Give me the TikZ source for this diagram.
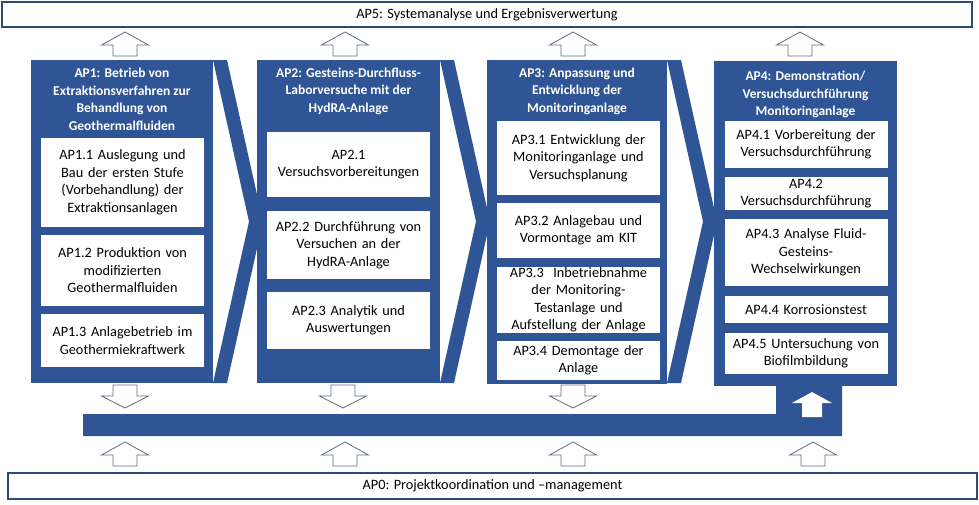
\documentclass[tikz,border=0pt]{standalone}
\usepackage{fontspec}
\setmainfont{Carlito}
\definecolor{apblue}{HTML}{2F5597}
\definecolor{apframe}{HTML}{2A4B78}
\definecolor{arrline}{HTML}{5E6A82}
\newcommand{\apfont}{\fontsize{14.3}{17.5}\selectfont}
\newcommand{\aptitlefont}{\fontsize{13.5}{17.5}\selectfont\bfseries}
\tikzset{
    apbar/.style={draw=apframe, line width=2pt, fill=white, inner sep=0pt, font=\apfont},
    aptitle/.style={text=white, align=center, inner sep=0pt, font=\aptitlefont},
    apsub/.style={fill=white, align=center, inner xsep=2pt, inner ysep=0pt,
        minimum width=163pt, text width=159pt, font=\apfont},
    arrline/.style={draw=arrline, line width=0.8pt, fill=white},
    uparr/.pic={\path[arrline] (0,0) -- (23.5,13) -- (12,13) -- (12,24)
        -- (-12,24) -- (-12,13) -- (-23.5,13) -- cycle;},
    downarr/.pic={\path[arrline] (0,0) -- (23.5,-12) -- (12,-12) -- (12,-23)
        -- (-12,-23) -- (-12,-12) -- (-23.5,-12) -- cycle;}
}
\begin{document}
\begin{tikzpicture}[x=1pt, y=-1pt]
        % work packages AP0 - AP5, chevron columns

\useasboundingbox (0,0) rectangle (979,504);

\node[apbar, minimum width=970pt, minimum height=25pt] (ap5) at (487,14.5)
    {AP5: Systemanalyse und Ergebnisverwertung};
\node[apbar, minimum width=969pt, minimum height=26pt] (ap0) at (492.5,486)
    {AP0: Projektkoordination und --management};

\foreach \r in {213,440,667}
    \fill[apblue] (\r,60) -- (\r+14,60) -- (\r+50,221.5) -- (\r+14,383)
        -- (\r,383) -- (\r+36,221.5) -- cycle;

\fill[apblue] (31,60) rectangle (213,383);
\fill[apblue] (257,60) rectangle (440,383);
\fill[apblue] (487,60) rectangle (667,384);
\fill[apblue] (714,61) rectangle (897,386);
\fill[apblue] (83,414) -- (776,414) -- (776,384) -- (842,384)
    -- (842,436) -- (83,436) -- cycle;
\fill[white] (812,392) -- (832,403) -- (822,403) -- (822,417)
    -- (802,417) -- (802,403) -- (792,403) -- cycle;

\foreach \x in {125,345,573,800} \pic at (\x,32) {uparr};
\foreach \x in {125,343,573} \pic at (\x,408) {downarr};
\foreach \x in {125,345,573,813} \pic at (\x,442) {uparr};

\node[aptitle] (ap1) at (122,99.5)
    {AP1: Betrieb von\\Extraktionsverfahren zur\\Behandlung von\\Geothermalfluiden};
\node[apsub, minimum height=89pt] (ap11) at (122.5,182.5)
    {AP1.1 Auslegung und\\Bau der ersten Stufe\\(Vorbehandlung) der\\Extraktionsanlagen};
\node[apsub, minimum height=71pt] (ap12) at (122.5,270.5)
    {AP1.2 Produktion von\\modifizierten\\Geothermalfluiden};
\node[apsub, minimum height=53pt] (ap13) at (122.5,340.5)
    {AP1.3 Anlagebetrieb im\\Geothermiekraftwerk};

\node[aptitle] (ap2) at (348.5,91)
    {AP2: Gesteins-Durchfluss-\\Laborversuche mit der\\HydRA-Anlage};
\node[apsub, minimum height=65pt] (ap21) at (348.5,164.5)
    {AP2.1\\Versuchsvorbereitungen};
\node[apsub, minimum height=68pt] (ap22) at (348.5,245)
    {AP2.2 Durchführung von\\Versuchen an der\\HydRA-Anlage};
\node[apsub, minimum height=57pt] (ap23) at (348.5,320.5)
    {AP2.3 Analytik und\\Auswertungen};

\node[aptitle] (ap3) at (577,91)
    {AP3: Anpassung und\\Entwicklung der\\Monitoringanlage};
\node[apsub, minimum height=74pt] (ap31) at (578.5,158)
    {AP3.1 Entwicklung der\\Monitoringanlage und\\Versuchsplanung};
\node[apsub, minimum height=55pt] (ap32) at (578.5,230.5)
    {AP3.2 Anlagebau und\\Vormontage am KIT};
\node[apsub, minimum height=66pt] (ap33) at (578.5,300)
    {AP3.3\ \ Inbetriebnahme\\der Monitoring-\\Testanlage und\\Aufstellung der Anlage};
\node[apsub, minimum height=39pt] (ap34) at (578.5,360.5)
    {AP3.4 Demontage der\\Anlage};

\node[aptitle] (ap4) at (805.5,94.5)
    {AP4: Demonstration/\\Versuchsdurchführung\\Monitoringanlage};
\node[apsub, minimum height=47pt] (ap41) at (806,144.5)
    {AP4.1 Vorbereitung der\\Versuchsdurchführung};
\node[apsub, minimum height=33pt] (ap42) at (806,193.5)
    {AP4.2\\Versuchsdurchführung};
\node[apsub, minimum height=67pt] (ap43) at (806,252.5)
    {AP4.3 Analyse Fluid-\\Gesteins-\\Wechselwirkungen};
\node[apsub, minimum height=27pt] (ap44) at (806,309.5)
    {AP4.4 Korrosionstest};
\node[apsub, minimum height=41pt] (ap45) at (806,353.5)
    {AP4.5 Untersuchung von\\Biofilmbildung};

    \end{tikzpicture}
\end{document}
